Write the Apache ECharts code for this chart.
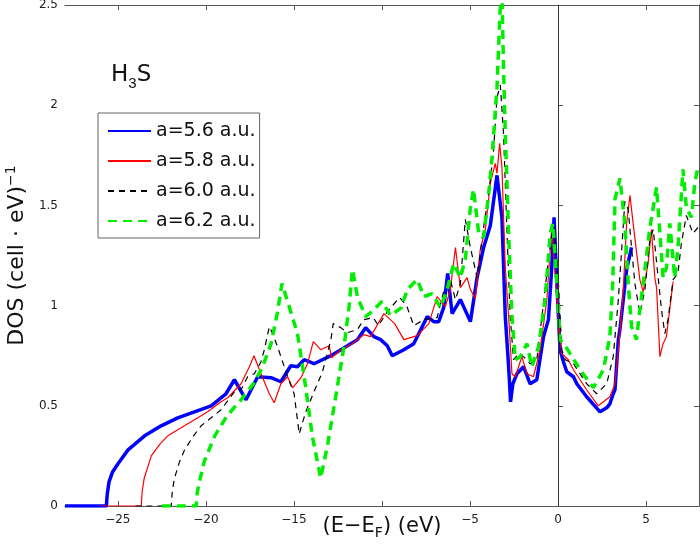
<!DOCTYPE html>
<html>
<head>
<meta charset="utf-8">
<script src="https://cdn.jsdelivr.net/npm/echarts@6/dist/echarts.min.js"></script>
<style>
  html, body { margin: 0; padding: 0; background: #fff; }
  #chart { width: 700px; height: 556px; }
</style>
</head>
<body>
<div id="chart"></div>
<script>
// [E - E_F (eV), DOS (cell·eV)^-1]
const dosA56 = [[-28,0],[-25.65,0],[-25.6,0.06],[-25.5,0.12],[-25.3,0.17],[-25.0,0.21],[-24.42,0.28],[-23.48,0.35],[-22.54,0.40],[-21.6,0.44],[-20.65,0.47],[-19.7,0.50],[-18.86,0.56],[-18.38,0.63],[-17.72,0.53],[-17.06,0.645],[-16.3,0.64],[-15.74,0.62],[-15.18,0.70],[-14.8,0.695],[-14.42,0.73],[-13.86,0.71],[-12.9,0.75],[-11.96,0.80],[-11.4,0.83],[-10.93,0.89],[-10.46,0.845],[-10.08,0.83],[-9.7,0.80],[-9.42,0.75],[-8.76,0.78],[-8.2,0.81],[-7.43,0.945],[-7.06,0.92],[-6.78,0.92],[-6.5,0.99],[-6.27,1.16],[-6.02,0.96],[-5.55,1.03],[-4.98,0.92],[-4.6,1.14],[-4.23,1.29],[-3.85,1.40],[-3.47,1.65],[-3.19,1.44],[-3.0,0.945],[-2.81,0.695],[-2.7,0.52],[-2.57,0.61],[-2.34,0.66],[-1.96,0.695],[-1.59,0.61],[-1.21,0.63],[-0.83,0.845],[-0.55,0.93],[-0.36,1.19],[-0.23,1.44],[-0.07,1.11],[0.11,0.78],[0.3,0.72],[0.49,0.67],[0.87,0.645],[1.06,0.61],[1.62,0.545],[2.38,0.47],[2.76,0.49],[2.94,0.51],[3.13,0.56],[3.23,0.58],[3.42,0.83],[3.51,0.88],[3.89,1.18],[4.17,1.29]];

const dosA58 = [[-26,0],[-23.67,0],[-23.62,0.07],[-23.5,0.14],[-23.1,0.25],[-22.6,0.31],[-22.16,0.35],[-21.03,0.41],[-20.27,0.45],[-19.9,0.47],[-19.14,0.52],[-18.76,0.54],[-18.0,0.61],[-17.53,0.695],[-17.27,0.75],[-16.87,0.66],[-16.4,0.56],[-16.12,0.515],[-15.74,0.61],[-15.36,0.645],[-15.08,0.59],[-14.6,0.64],[-14.23,0.71],[-13.9,0.82],[-13.48,0.78],[-13.0,0.80],[-12.86,0.74],[-12.34,0.78],[-11.7,0.81],[-11.03,0.855],[-10.65,0.845],[-9.89,0.96],[-9.28,0.91],[-8.76,0.83],[-8.0,0.85],[-7.34,0.91],[-6.87,1.045],[-6.4,0.995],[-6.12,1.08],[-5.83,1.29],[-5.55,1.09],[-5.17,1.14],[-4.98,1.08],[-4.7,1.035],[-4.42,1.28],[-4.13,1.38],[-3.85,1.61],[-3.57,1.71],[-3.47,1.66],[-3.32,1.81],[-3.19,1.69],[-3.0,1.19],[-2.81,0.945],[-2.62,0.66],[-2.43,0.645],[-2.06,0.745],[-1.77,0.66],[-1.4,0.645],[-1.02,0.78],[-0.64,1.03],[-0.36,1.39],[-0.17,1.16],[0.02,0.93],[0.21,0.76],[0.58,0.73],[0.87,0.68],[1.62,0.58],[2.28,0.50],[2.94,0.545],[3.23,0.61],[3.51,0.86],[3.7,1.08],[3.89,1.41],[4.08,1.55],[4.26,1.41],[4.64,1.13],[4.83,1.07],[5.11,1.21],[5.3,1.38],[5.49,1.14],[5.59,1.09],[5.78,0.745],[5.96,0.81],[6.15,0.845],[6.53,1.12]];

const dosA60 = [[-24,0],[-21.97,0],[-21.9,0.08],[-21.78,0.14],[-21.5,0.22],[-21.21,0.28],[-20.7,0.35],[-20.27,0.40],[-19.14,0.48],[-18.38,0.57],[-18.0,0.58],[-17.63,0.645],[-17.25,0.66],[-16.87,0.72],[-16.68,0.78],[-16.4,0.895],[-16.21,0.86],[-15.93,0.795],[-15.36,0.645],[-14.99,0.56],[-14.7,0.36],[-14.33,0.47],[-13.86,0.57],[-13.38,0.67],[-12.9,0.83],[-12.77,0.91],[-12.34,0.89],[-11.96,0.865],[-11.4,0.88],[-11.03,0.93],[-10.5,0.94],[-10.2,0.90],[-9.7,0.97],[-9.0,1.04],[-8.6,1.0],[-8.2,0.90],[-7.62,0.93],[-6.87,0.94],[-6.5,1.07],[-6.12,1.13],[-5.83,1.03],[-5.55,1.11],[-5.27,1.43],[-4.98,1.29],[-4.6,1.14],[-4.23,1.39],[-3.94,1.56],[-3.66,1.78],[-3.47,2.04],[-3.28,2.10],[-3.1,1.86],[-2.9,1.36],[-2.72,0.945],[-2.53,0.73],[-2.25,0.76],[-1.96,0.745],[-1.59,0.71],[-1.21,0.73],[-0.92,0.945],[-0.64,1.16],[-0.36,1.36],[-0.21,1.39],[0.02,1.11],[0.21,0.78],[0.4,0.73],[0.87,0.71],[1.62,0.61],[2.19,0.56],[2.76,0.61],[3.13,0.745],[3.42,1.03],[3.61,1.28],[3.79,1.52],[3.98,1.48],[4.17,1.29],[4.36,1.11],[4.64,0.96],[4.93,1.08],[5.21,1.33],[5.4,1.38],[5.68,1.14],[5.87,0.98],[6.06,0.86],[6.24,0.93],[6.53,1.13],[6.8,1.16],[7.0,1.31],[7.28,1.45],[7.66,1.36],[7.94,1.39],[8,1.4]];

const dosA62 = [[-22.5,0],[-20.55,0],[-20.5,0.06],[-20.42,0.1],[-20.1,0.22],[-19.5,0.35],[-18.8,0.45],[-18.0,0.53],[-17.3,0.61],[-16.8,0.69],[-16.3,0.81],[-15.95,0.96],[-15.68,1.11],[-15.27,0.995],[-14.8,0.86],[-14.42,0.645],[-13.95,0.345],[-13.48,0.14],[-13.1,0.30],[-12.63,0.545],[-12.16,0.795],[-11.87,0.995],[-11.68,1.18],[-11.4,1.045],[-10.93,0.945],[-10.65,0.965],[-10.0,1.02],[-9.51,0.95],[-8.9,0.99],[-8.57,1.08],[-8.0,1.13],[-7.62,1.045],[-7.15,1.06],[-6.68,0.99],[-6.3,1.08],[-5.93,1.21],[-5.55,1.14],[-5.27,1.23],[-4.98,1.49],[-4.8,1.58],[-4.51,1.36],[-4.23,1.34],[-3.94,1.56],[-3.75,1.74],[-3.47,2.09],[-3.3,2.46],[-3.2,2.6],[-3.1,2.19],[-3.0,1.86],[-2.81,1.36],[-2.62,0.945],[-2.43,0.73],[-2.15,0.745],[-1.77,0.81],[-1.49,0.695],[-1.11,0.795],[-0.74,1.03],[-0.45,1.36],[-0.3,1.41],[-0.07,1.11],[0.11,0.83],[0.4,0.80],[0.68,0.76],[1.25,0.68],[2.0,0.59],[2.57,0.68],[2.94,0.845],[3.1,1.11],[3.23,1.53],[3.51,1.635],[3.79,1.41],[3.98,1.11],[4.17,0.895],[4.45,0.83],[4.64,0.98],[4.93,1.18],[5.21,1.39],[5.59,1.59],[5.78,1.36],[5.96,1.14],[6.15,1.19],[6.34,1.41],[6.62,1.14],[6.8,1.28],[7.09,1.68],[7.28,1.49],[7.57,1.44],[7.76,1.61],[7.94,1.69]];

const seriesNames = ['a=5.6 a.u.', 'a=5.8 a.u.', 'a=6.0 a.u.', 'a=6.2 a.u.'];
const xTicks = [-25, -20, -15, -10, -5, 0, 5];
const xLabels = [-25, -20, -15, -5, 0, 5];

const axisGrey = '#555';
const font = '"DejaVu Sans", sans-serif';
const minus = v => String(v).replace('-', '\u2212');

const chart = echarts.init(document.getElementById('chart'));

const lineSeries = (name, data, color, width, dash) => ({
  name: name,
  type: 'line',
  data: data,
  symbol: 'none',
  xAxisIndex: 0,
  yAxisIndex: 0,
  lineStyle: { color: color, width: width, type: dash || 'solid' },
  itemStyle: { color: color },
  emphasis: { disabled: true }
});

const option = {
  animation: false,
  textStyle: { fontFamily: font },
  grid: { left: 65, right: 1, top: 5, bottom: 50, containLabel: false, outerBoundsMode: 'none' },
  legend: {
    data: seriesNames,
    orient: 'vertical',
    left: 98,
    top: 113,
    padding: [8, 4, 7, 9],
    itemWidth: 43,
    itemHeight: 14,
    itemGap: 10,
    itemStyle: { opacity: 0 },
    backgroundColor: '#fff',
    borderColor: '#666',
    borderWidth: 1,
    borderRadius: 0,
    textStyle: { fontSize: 19, color: '#111', lineHeight: 20, fontFamily: font }
  },
  graphic: [{
    type: 'text',
    left: 111,
    top: 59,
    style: {
      text: 'H{sub|3}S',
      font: '23px ' + font,
      fill: '#111',
      rich: { sub: { fontSize: 15, verticalAlign: 'bottom', lineHeight: 15 } },
      lineHeight: 32
    }
  }],
  xAxis: [{
    type: 'value',
    position: 'bottom',
    min: -28,
    max: 8,
    name: '(E\u2212E{sub|F}) (eV)',
    nameLocation: 'middle',
    nameGap: 8,
    nameMoveOverlap: false,
    nameTextStyle: {
      fontSize: 21, color: '#111', lineHeight: 26,
      rich: { sub: { fontSize: 14, verticalAlign: 'bottom', lineHeight: 12 } }
    },
    axisLine: { show: true, lineStyle: { color: axisGrey } },
    axisTick: { inside: true, length: 5, lineStyle: { color: axisGrey }, customValues: xTicks },
    axisLabel: { fontSize: 12, color: '#222', margin: 8, customValues: xLabels, formatter: minus },
    splitLine: { show: false }
  }, {
    type: 'value',
    position: 'top',
    min: -28,
    max: 8,
    axisLine: { show: true, onZero: false, lineStyle: { color: axisGrey } },
    axisTick: { inside: true, length: 5, lineStyle: { color: axisGrey }, customValues: xTicks },
    axisLabel: { show: false },
    splitLine: { show: false }
  }],
  yAxis: [{
    type: 'value',
    position: 'left',
    min: 0,
    max: 2.5,
    interval: 0.5,
    name: 'DOS (cell \u00b7 eV){sup|\u22121}',
    nameLocation: 'middle',
    nameRotate: 90,
    nameGap: 35,
    nameMoveOverlap: false,
    nameTextStyle: {
      fontSize: 22, color: '#111', lineHeight: 26,
      rich: { sup: { fontSize: 14, verticalAlign: 'top', lineHeight: 12 } }
    },
    axisLine: { show: true, lineStyle: { color: axisGrey } },
    axisTick: { show: true, inside: true, length: 5, lineStyle: { color: axisGrey } },
    axisLabel: { fontSize: 12, color: '#222', margin: 7 },
    splitLine: { show: false }
  }, {
    type: 'value',
    position: 'right',
    min: 0,
    max: 2.5,
    interval: 0.5,
    axisLine: { show: true, onZero: false, lineStyle: { color: axisGrey } },
    axisTick: { show: true, inside: true, length: 5, lineStyle: { color: axisGrey } },
    axisLabel: { show: false },
    splitLine: { show: false }
  }],
  series: [
    Object.assign(lineSeries(seriesNames[0], dosA56, '#0000ff', 3.5), {
      markLine: {
        silent: true,
        symbol: 'none',
        label: { show: false },
        lineStyle: { color: '#333', width: 1, type: 'solid' },
        data: [{ xAxis: 0 }]
      }
    }),
    lineSeries(seriesNames[1], dosA58, '#ff0000', 1.2),
    lineSeries(seriesNames[2], dosA60, '#000000', 1.2, [6, 5]),
    lineSeries(seriesNames[3], dosA62, '#00ee00', 3.5, [9, 6])
  ]
};

chart.setOption(option);
</script>
</body>
</html>
